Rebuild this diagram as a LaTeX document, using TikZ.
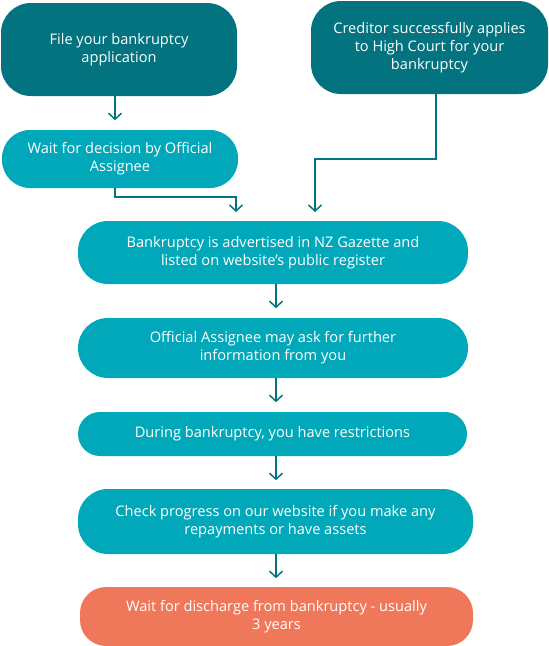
\documentclass[tikz,border=0pt]{standalone}
\usepackage{fontspec}
\setmainfont{Open Sans}
\usetikzlibrary{arrows.meta}
\definecolor{dteal}{HTML}{03737F}
\definecolor{lteal}{HTML}{00A8B9}
\definecolor{orng}{HTML}{EF775A}
\tikzset{
  box/.style={rectangle, rounded corners=#1, text=white, align=center, inner sep=0pt,
    font=\fontsize{14.6}{18}\selectfont},
  box/.default=24pt,
  arr/.style={draw=dteal, line width=1.5pt, -{Straight Barb[length=6pt,width=13pt,line width=1.5pt]}},
}
\begin{document}
\begin{tikzpicture}[x=1pt,y=1pt]
\useasboundingbox (0,0) rectangle (549,-646);
\node[box=30pt, fill=dteal, minimum width=236pt, minimum height=93pt] (b1) at (119,-49.5) {File your bankruptcy\\application};
\node[box=30pt, fill=dteal, minimum width=237pt, minimum height=93pt] (b2) at (429.5,-47.5) {Creditor successfully applies\\to High Court for your\\bankruptcy};
\node[box=28pt, fill=lteal, minimum width=236pt, minimum height=58pt] (b3) at (120,-159) {Wait for decision by Official\\Assignee};
\node[box=30pt, fill=lteal, minimum width=390pt, minimum height=63pt] (b4) at (273,-252.5) {Bankruptcy is advertised in NZ Gazette and\\listed on website’s public register};
\node[box=30pt, fill=lteal, minimum width=390pt, minimum height=60pt] (b5) at (273,-348) {Official Assignee may ask for further\\information from you};
\node[box=22pt, fill=lteal, minimum width=389pt, minimum height=44pt] (b6) at (272.5,-434) {During bankruptcy, you have restrictions};
\node[box=30pt, fill=lteal, minimum width=395pt, minimum height=65pt] (b7) at (275.5,-521.5) {Check progress on our website if you make any\\repayments or have assets};
\node[box=26pt, fill=orng, minimum width=393pt, minimum height=59pt] (b8) at (276.5,-616.5) {Wait for discharge from bankruptcy - usually\\3 years};
\coordinate (ax) at (276,0);
\coordinate (a1) at (115,0);
\coordinate (j3) at (236,-197);
\coordinate (j2) at (315,-159);
\draw[arr] (b1.south -| a1) -- ++(0,-24);
\draw[arr] (b3.south -| a1) |- (j3) -- ++(0,-15);
\draw[arr] (b2.south -| 436,0) |- (j2) -- (j2 |- j3) -- ++(0,-15);
\draw[arr] (b4.south -| ax) -- ++(0,-24);
\draw[arr] (b5.south -| ax) -- ++(0,-24);
\draw[arr] (b6.south -| ax) -- ++(0,-24);
\draw[arr] (b7.south -| ax) -- ++(0,-24);
\end{tikzpicture}
\end{document}
